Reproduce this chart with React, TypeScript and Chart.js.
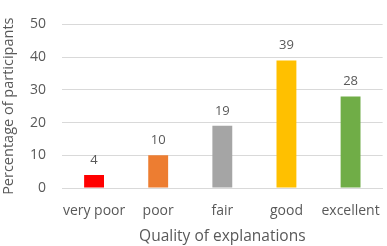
import React, { useEffect, useRef } from "react";
import { Chart, registerables } from "chart.js";

Chart.register(...registerables);

const categories = ["very poor", "poor", "fair", "good", "excellent"];
const values = [4, 10, 19, 39, 28];
const barColors = ["#ff0000", "#ed7d31", "#a5a5a5", "#ffc000", "#70ad47"];
const yTitle = "Percentage of participants";
const xTitle = "Quality of explanations";

const FONT = "'Open Sans', 'Liberation Sans', sans-serif";
const TEXT = "#595959";

const valueLabels = {
  id: "valueLabels",
  afterDatasetsDraw(chart: any) {
    const ctx = chart.ctx;
    const meta = chart.getDatasetMeta(0);
    ctx.save();
    ctx.font = `13px ${FONT}`;
    ctx.fillStyle = TEXT;
    ctx.textAlign = "center";
    ctx.textBaseline = "alphabetic";
    meta.data.forEach((bar: any, i: number) => {
      ctx.fillText(String(values[i]), bar.x, bar.y - 11);
    });
    ctx.restore();
  },
};

export default function App() {
  const ref = useRef<HTMLCanvasElement>(null);
  useEffect(() => {
    document.body.style.margin = "0";
    const chart = new Chart(ref.current!, {
      type: "bar",
      data: {
        labels: categories,
        datasets: [
          {
            data: values,
            backgroundColor: barColors,
            categoryPercentage: 1,
            barPercentage: 0.31,
          },
        ],
      },
      options: {
        responsive: false,
        animation: false,
        layout: { padding: { top: 9, right: 3, left: 0, bottom: 0 } },
        plugins: { legend: { display: false }, tooltip: { enabled: false } },
        scales: {
          x: {
            grid: { display: false },
            border: { color: "#d9d9d9", width: 1 },
            ticks: {
              color: TEXT,
              font: { family: FONT, size: 14 },
              padding: 7,
              maxRotation: 0,
              minRotation: 0,
              autoSkip: false,
            },
            title: {
              display: true,
              text: xTitle,
              color: TEXT,
              font: { family: FONT, size: 15.5 },
              padding: { top: 2, bottom: 0 },
            },
            afterFit(scale: any) {
              scale.height = 58;
            },
          },
          y: {
            min: 0,
            max: 50,
            ticks: {
              stepSize: 10,
              color: TEXT,
              font: { family: FONT, size: 14 },
              padding: 16,
            },
            grid: { color: "#d9d9d9", drawTicks: false },
            border: { display: false },
            title: {
              display: true,
              text: yTitle,
              color: TEXT,
              font: { family: FONT, size: 14.5 },
              padding: { top: 0, bottom: 0 },
            },
            afterFit(scale: any) {
              scale.width = 62;
            },
          },
        },
      },
      plugins: [valueLabels],
    });
    return () => chart.destroy();
  }, []);
  return <canvas ref={ref} width={387} height={246} />;
}
